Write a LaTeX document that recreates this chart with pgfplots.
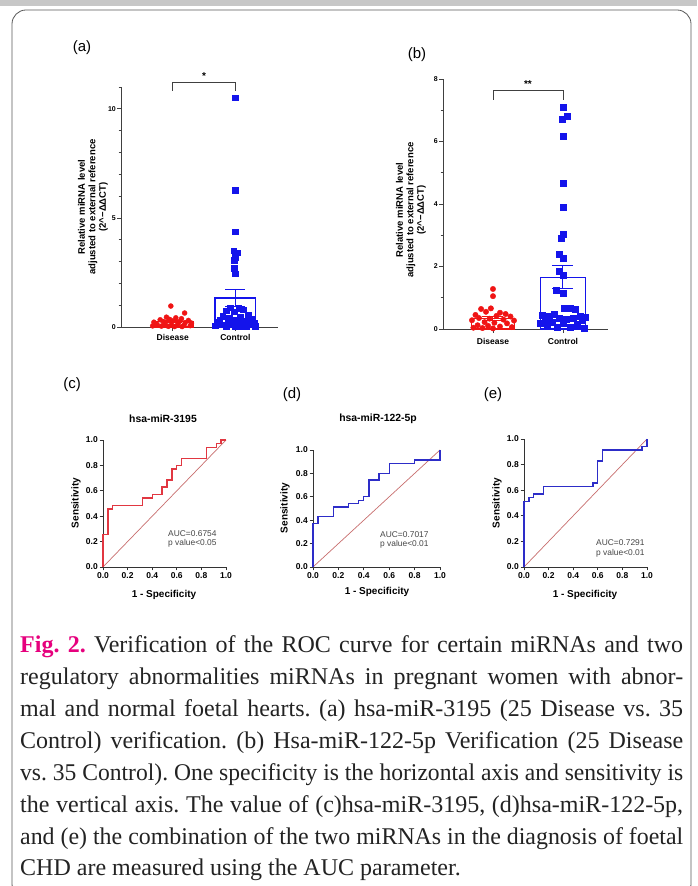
\documentclass[border=0pt]{standalone}
\usepackage{pgfplots}
\pgfplotsset{compat=1.18}
\usepackage{graphicx}
\usepackage{fontspec}
\setmainfont{Liberation Serif}
\setsansfont{Liberation Sans}

\definecolor{pred}{RGB}{240,20,20}
\definecolor{pblue}{RGB}{20,20,235}
\definecolor{rocred}{RGB}{225,55,65}
\definecolor{rocblue}{RGB}{45,45,200}
\definecolor{diag}{RGB}{200,110,110}
\definecolor{figmag}{RGB}{230,0,125}
\definecolor{captext}{RGB}{35,35,35}
\definecolor{auctext}{RGB}{70,70,70}

% one caption line, stretched (or squeezed) to the column width
\newsavebox\capbox
\newcommand\capline[1]{\sbox\capbox{#1}\ifdim\wd\capbox>663pt\relax\resizebox{663pt}{\height}{\usebox\capbox}\else\makebox[663pt][s]{#1}\fi}

\pgfplotsset{
  barax/.style={scale only axis, anchor=south west,
    axis x line=bottom, axis y line=left,
    axis line style={-, line width=0.8pt, draw=black!75},
    tick style={line width=0.7pt, black!75},
    tick align=outside, major tick length=4pt, minor tick length=2.3pt,
    clip=false, xtick={1,2}, xticklabels={Disease,Control},
    xticklabel style={font=\sffamily\bfseries\fontsize{8.5}{9}\selectfont, inner sep=1.5pt},
    yticklabel style={font=\sffamily\bfseries\fontsize{7}{8}\selectfont, inner sep=1pt},
    /pgf/number format/assume math mode=true},
  rocax/.style={scale only axis, anchor=south west,
    xmin=0, xmax=1, ymin=0, ymax=1,
    axis x line=bottom, axis y line=left,
    axis line style={-, line width=0.8pt, draw=black!80},
    tick style={line width=0.7pt, black!80},
    tick align=outside, major tick length=3.5pt, clip=false,
    xtick={0,0.2,0.4,0.6,0.8,1}, ytick={0,0.2,0.4,0.6,0.8,1},
    tick label style={font=\sffamily\bfseries\fontsize{8.5}{9}\selectfont, inner sep=1.5pt,
      /pgf/number format/.cd, fixed, fixed zerofill, precision=1, assume math mode=true}},
}

\begin{document}
\frenchspacing
\begin{tikzpicture}[x=1pt,y=1pt]
\useasboundingbox (0,0) rectangle (697,886);
\fill[white] (0,0) rectangle (697,886);
\fill[black!22] (0,880) rectangle (697,886);
\begin{scope}
\clip (0,0) rectangle (697,880);
\draw[black!65, line width=0.8pt, rounded corners=14pt] (12,-12) rectangle (691,876);
\end{scope}

% (a) hsa-miR-3195
\begin{axis}[barax, at={(121pt,559pt)}, width=157pt, height=240pt,
  xmin=0.175, xmax=2.68, ymin=0, ymax=11,
  ytick={0,5,10}, minor ytick={1,2,3,4,6,7,8,9,11},
  xticklabel style={yshift=-2pt}]
\addplot[ybar, bar width=0.65, draw=pred, line width=1.2pt, fill=none] coordinates {(1,0.25)};
\addplot[ybar, bar width=0.65, draw=pblue, line width=1.2pt, fill=none] coordinates {(2,1.33)};
\addplot[only marks, mark=*, mark size=2.5pt, color=pred] table {
x y
0.97 0.96
1.19 0.64
0.90 0.45
1.05 0.42
1.14 0.38
0.80 0.33
0.95 0.35
1.25 0.30
0.70 0.22
0.85 0.25
1.00 0.28
1.10 0.24
1.20 0.20
1.30 0.18
0.75 0.12
0.88 0.15
0.98 0.10
1.08 0.12
1.18 0.08
1.28 0.06
0.68 0.05
0.82 0.04
0.93 0.03
1.03 0.02
1.15 0.02
};
\addplot[only marks, mark=square*, mark size=2.8pt, color=pblue] table {
x y
2.00 10.50
2.00 6.28
2.00 4.36
1.97 3.50
2.04 3.40
2.00 3.20
1.98 3.05
1.98 2.70
2.00 2.45
1.92 0.88
2.05 0.85
2.12 0.80
1.85 0.75
1.98 0.70
2.20 0.55
1.80 0.50
2.08 0.45
1.90 0.40
2.25 0.35
1.75 0.30
2.00 0.32
2.15 0.28
1.70 0.22
1.88 0.20
2.30 0.18
2.05 0.15
1.95 0.12
1.78 0.10
2.22 0.10
1.68 0.06
2.10 0.05
2.32 0.04
1.85 0.03
2.00 0.02
2.18 0.02
};
\addplot[pred, line width=1pt] coordinates {(1,0.20) (1,0.30)};
\addplot[pred, line width=1pt] coordinates {(0.85,0.30) (1.15,0.30)};
\addplot[pred, line width=1pt] coordinates {(0.85,0.20) (1.15,0.20)};
\addplot[pblue, line width=1pt] coordinates {(2,0.95) (2,1.74)};
\addplot[pblue, line width=1pt] coordinates {(1.84,1.74) (2.16,1.74)};
\addplot[pblue, line width=1pt] coordinates {(1.84,0.95) (2.16,0.95)};
\addplot[black!75, line width=0.8pt] coordinates {(1,10.83) (1,11.19) (2,11.19) (2,10.83)};
\node[font=\sffamily\bfseries\fontsize{10}{10}\selectfont] at (axis cs:1.5,11.5) {*};
\end{axis}

% (b) hsa-miR-122-5p
\begin{axis}[barax, at={(443pt,557pt)}, width=165pt, height=250pt,
  xmin=0.286, xmax=2.643, ymin=0, ymax=8,
  ytick={0,2,4,6,8}, minor ytick={1,3,5,7},
  xticklabel style={yshift=-4pt}]
\addplot[ybar, bar width=0.62, draw=pred, line width=1.2pt, fill=none] coordinates {(1,0.33)};
\addplot[ybar, bar width=0.64, draw=pblue, line width=1.2pt, fill=none] coordinates {(2,1.66)};
\addplot[only marks, mark=*, mark size=2.7pt, color=pred] table {
x y
1.00 1.28
1.00 1.05
0.83 0.64
0.97 0.66
0.90 0.55
1.10 0.52
1.18 0.48
0.75 0.45
1.05 0.42
1.25 0.40
0.80 0.35
0.95 0.33
1.15 0.30
0.70 0.28
1.30 0.27
0.88 0.22
1.02 0.20
1.20 0.18
0.78 0.12
0.93 0.10
1.10 0.08
1.27 0.06
0.72 0.04
0.85 0.03
1.00 0.02
};
\addplot[only marks, mark=square*, mark size=3pt, color=pblue] table {
x y
2.00 7.10
1.99 6.72
2.06 6.80
2.00 6.18
2.00 4.65
2.00 3.90
2.01 3.04
1.97 2.90
1.95 2.38
2.00 2.27
1.95 1.85
2.00 1.72
1.90 1.25
2.00 1.15
2.02 0.65
2.10 0.66
2.17 0.62
1.70 0.45
1.80 0.40
1.88 0.48
2.25 0.42
2.32 0.38
1.75 0.30
1.95 0.35
2.05 0.32
2.15 0.35
2.28 0.28
1.68 0.20
1.85 0.22
2.00 0.18
2.20 0.15
1.78 0.08
1.92 0.05
2.10 0.06
2.30 0.03
};
\addplot[pred, line width=1pt] coordinates {(1,0.26) (1,0.40)};
\addplot[pred, line width=1pt] coordinates {(0.85,0.40) (1.15,0.40)};
\addplot[pred, line width=1pt] coordinates {(0.85,0.26) (1.15,0.26)};
\addplot[pblue, line width=1pt] coordinates {(2,1.31) (2,2.02)};
\addplot[pblue, line width=1pt] coordinates {(1.85,2.02) (2.15,2.02)};
\addplot[pblue, line width=1pt] coordinates {(1.85,1.31) (2.15,1.31)};
\addplot[black!75, line width=0.8pt] coordinates {(1,7.33) (1,7.62) (2,7.62) (2,7.33)};
\node[font=\sffamily\bfseries\fontsize{10}{10}\selectfont] at (axis cs:1.5,7.84) {**};
\end{axis}

% (c) ROC hsa-miR-3195
\begin{axis}[rocax, at={(103pt,319pt)}, width=123pt, height=127pt]
\addplot[diag, line width=0.7pt] coordinates {(0,0) (1,1)};
\addplot[rocred, line width=1.3pt] coordinates {
(0,0) (0,0.257) (0.04,0.257) (0.04,0.457) (0.08,0.457) (0.08,0.486)
(0.32,0.486) (0.32,0.543) (0.40,0.543) (0.40,0.571) (0.48,0.571)
(0.48,0.629) (0.52,0.629) (0.52,0.686) (0.56,0.686) (0.56,0.771)
(0.60,0.771) (0.60,0.800) (0.64,0.800) (0.64,0.857) (0.84,0.857)
(0.84,0.943) (0.92,0.943) (0.92,0.971) (0.96,0.971) (0.96,1.0) (1,1)};
\end{axis}

% (d) ROC hsa-miR-122-5p
\begin{axis}[rocax, at={(313pt,319pt)}, width=127pt, height=117pt]
\addplot[diag, line width=0.7pt] coordinates {(0,0) (1,1)};
\addplot[rocblue, line width=1.3pt] coordinates {
(0,0) (0,0.371) (0.04,0.371) (0.04,0.429) (0.16,0.429) (0.16,0.514)
(0.28,0.514) (0.28,0.543) (0.36,0.543) (0.36,0.571) (0.40,0.571)
(0.40,0.600) (0.44,0.600) (0.44,0.743) (0.52,0.743) (0.52,0.800)
(0.60,0.800) (0.60,0.886) (0.80,0.886) (0.80,0.914) (1,0.914) (1,1)};
\end{axis}

% (e) ROC combination
\begin{axis}[rocax, at={(524pt,319pt)}, width=123pt, height=128pt]
\addplot[diag, line width=0.7pt] coordinates {(0,0) (1,1)};
\addplot[rocblue, line width=1.3pt] coordinates {
(0,0) (0,0.514) (0.04,0.514) (0.04,0.543) (0.08,0.543) (0.08,0.571)
(0.16,0.571) (0.16,0.629) (0.56,0.629) (0.56,0.657) (0.60,0.657)
(0.60,0.829) (0.64,0.829) (0.64,0.914) (0.96,0.914) (0.96,0.943)
(1,0.943) (1,1)};
\end{axis}

% panel letters
\begin{scope}[every node/.style={font=\sffamily\fontsize{15}{15}\selectfont}]
\node at (82,838) {(a)};
\node at (417,831) {(b)};
\node at (72,501) {(c)};
\node at (292,491) {(d)};
\node at (493,491) {(e)};
\end{scope}

% axis titles and labels
\begin{scope}[every node/.style={font=\sffamily\bfseries\fontsize{9.5}{10.5}\selectfont, align=center, inner sep=0}]
\node[rotate=90] at (93,679) {Relative miRNA level\\adjusted to external reference\\(2\textasciicircum−ΔΔCT)};
\node[rotate=90] at (411,676) {Relative miRNA level\\adjusted to external reference\\(2\textasciicircum−ΔΔCT)};
\end{scope}
\begin{scope}[every node/.style={font=\sffamily\bfseries\fontsize{10.4}{11}\selectfont, inner sep=0}]
\node at (163,467) {hsa-miR-3195};
\node at (378,467) {hsa-miR-122-5p};
\end{scope}
\begin{scope}[every node/.style={font=\sffamily\bfseries\fontsize{10}{11}\selectfont, inner sep=0}]
\node[rotate=90] at (76,383) {Sensitivity};
\node[rotate=90] at (285,378) {Sensitivity};
\node[rotate=90] at (497,383) {Sensitivity};
\node at (164,291) {1 - Specificity};
\node at (377,294) {1 - Specificity};
\node at (585,291) {1 - Specificity};
\end{scope}
\begin{scope}[every node/.style={font=\sffamily\fontsize{8.4}{9}\selectfont, text=auctext, inner sep=0, anchor=west}]
\node at (168,352) {AUC=0.6754};
\node at (168,343) {p value<0.05};
\node at (380,351) {AUC=0.7017};
\node at (380,342) {p value<0.01};
\node at (596,343) {AUC=0.7291};
\node at (596,333) {p value<0.01};
\end{scope}

% caption
\begin{scope}[every node/.style={font=\fontsize{24}{26}\selectfont, text=captext, inner sep=0, anchor=base west}]
\node at (20,233) {\capline{{\color{figmag}\bfseries Fig. 2.} Verification of the ROC curve for certain miRNAs and two}};
\node at (20,201) {\capline{regulatory abnormalities miRNAs in pregnant women with abnor-}};
\node at (20,169) {\capline{mal and normal foetal hearts. (a) hsa-miR-3195 (25 Disease vs. 35}};
\node at (20,137) {\capline{Control) verification. (b) Hsa-miR-122-5p Verification (25 Disease}};
\node at (20,105) {\capline{vs. 35 Control). One specificity is the horizontal axis and sensitivity is}};
\node at (20,73) {\capline{the vertical axis. The value of (c)hsa-miR-3195, (d)hsa-miR-122-5p,}};
\node at (20,41) {\capline{and (e) the combination of the two miRNAs in the diagnosis of foetal}};
\node at (20,10) {CHD are measured using the AUC parameter.};
\end{scope}
\end{tikzpicture}
\end{document}
